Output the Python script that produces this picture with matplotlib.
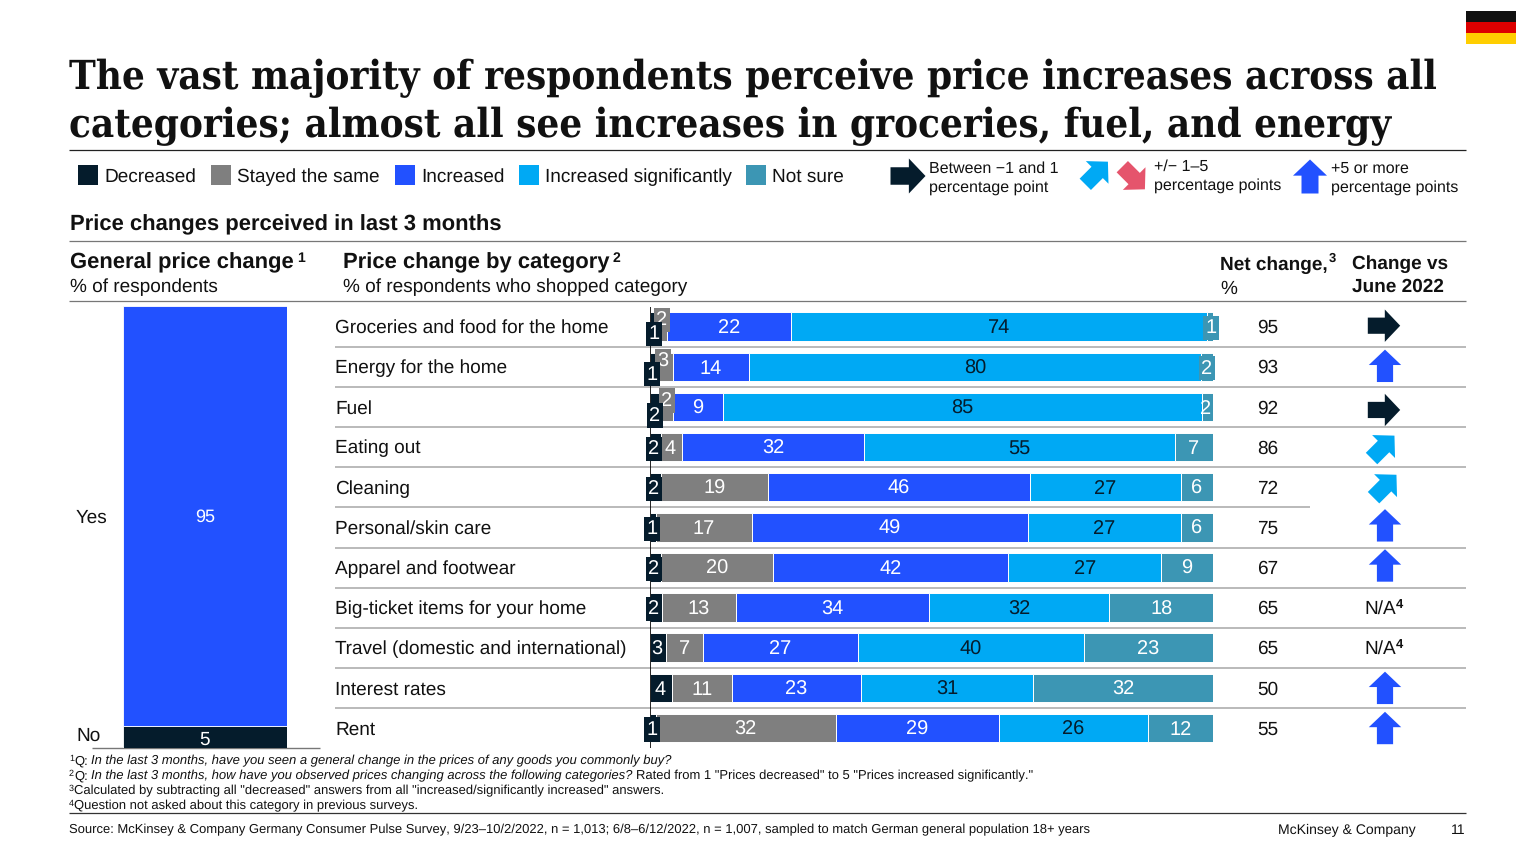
import math
import matplotlib
matplotlib.use("Agg")
import matplotlib.pyplot as plt
from matplotlib.patches import Rectangle, Polygon
from matplotlib.transforms import blended_transform_factory as blend

plt.rcParams['font.family'] = ['Liberation Sans', 'DejaVu Sans']
plt.rcParams['text.hinting'] = 'no_hinting'
plt.rcParams['text.hinting_factor'] = 1

# ---------- data ----------
categories = ["Groceries and food for the home", "Energy for the home", "Fuel", "Eating out",
              "Cleaning", "Personal/skin care", "Apparel and footwear",
              "Big-ticket items for your home", "Travel (domestic and international)",
              "Interest rates", "Rent"]
decreased = [1, 1, 2, 2, 2, 1, 2, 2.1, 2.9, 3.9, 1]
same = [2, 3, 2, 3.7, 19, 17.1, 19.8, 13.1, 6.6, 10.6, 32]
increased = [22, 13.6, 9, 32.3, 46.5, 49, 41.8, 34.4, 27.4, 22.9, 29]
significant = [74, 80.3, 85, 55.2, 26.8, 27.2, 27.2, 32, 40.2, 30.7, 26.4]
not_sure = [1, 2.1, 2, 6.8, 5.7, 5.7, 9.2, 18.4, 22.9, 31.9, 11.6]
net_change = [95, 93, 92, 86, 72, 75, 67, 65, 65, 50, 55]
trend = ["flat", "up", "flat", "diag", "diag", "up", "up", "na", "na", "up", "up"]
general_labels = ["Yes", "No"]
general_values = [95, 5]

series_names = ["Decreased", "Stayed the same", "Increased", "Increased significantly", "Not sure"]
DARK, GRAY, BLUE, CYAN, TEAL, PINK = "#051C2C", "#7F7F7F", "#2251FF", "#00A9F4", "#3C96B4", "#E5546C"
colors = [DARK, GRAY, BLUE, CYAN, TEAL]
text_colors = ["white", "white", "white", DARK, "white"]

fig = plt.figure(figsize=(15.36, 8.64), dpi=100, facecolor="white")
W, H = 1536, 864

def make_axes(x0, y0, x1, y1, z):
    a = fig.add_axes([x0 / W, 1 - y1 / H, (x1 - x0) / W, (y1 - y0) / H], zorder=z)
    a.axis("off")
    return a

ov = make_axes(0, 0, W, H, 0)
ov.set_xlim(0, W); ov.set_ylim(H, 0)
ax = make_axes(650, 306.6, 1213, 748, 2)
ax.set_xlim(0, 100); ax.set_ylim(10.5, -0.5)
axg = make_axes(123, 306, 287, 748, 2)
axg.set_xlim(0, 1); axg.set_ylim(0, 100)
top = make_axes(0, 0, W, H, 3)
top.set_xlim(0, W); top.set_ylim(H, 0)
top.patch.set_alpha(0)

def T(x, y, s, size=13.7, a=ov, **k):
    k.setdefault("va", "center"); k.setdefault("color", "#111111")
    return a.text(x, y + 1, s, fontsize=size, **k)

def hline(y, x0, x1, c="#B4B4B4", lw=1.3, z=1):
    ov.plot([x0, x1], [y, y], color=c, lw=lw, solid_capstyle="butt", zorder=z)

# ---------- title ----------
title_kw = dict(family="DejaVu Serif", stretch="condensed", weight="bold", size=29.1)
T(69, 77, "The vast majority of respondents perceive price increases across all", **title_kw)
T(69, 125, "categories; almost all see increases in groceries, fuel, and energy", **title_kw)
hline(150, 69, 1466, c="#222222", lw=0.9)

# flag
for i, c in enumerate(["#111111", "#DD0000", "#FFCE00"]):
    ov.add_patch(Rectangle((1466, 11 + i * 11), 50, 11, color=c, lw=0))

# ---------- icons ----------
def icon(x, y, kind, a=top, size=16.5):
    base = [(-1, .5), (.05, .5), (.05, 1), (1, 0), (.05, -1), (.05, -.5), (-1, -.5)]
    ang = {"flat": 0, "up": 90, "diag": 45, "down": -45}[kind]
    col = {"flat": DARK, "up": BLUE, "diag": CYAN, "down": PINK}[kind]
    r = math.radians(ang)
    pts = [(x + size * (u * math.cos(r) - v * math.sin(r)),
            y - size * (u * math.sin(r) + v * math.cos(r))) for u, v in base]
    a.add_patch(Polygon(pts, closed=True, color=col, lw=0))

# ---------- legend ----------
leg_x = [78, 211, 395, 519, 746]
for x, n, c in zip(leg_x, series_names, colors):
    ov.add_patch(Rectangle((x, 165), 20, 20, color=c, lw=0))
    T(x + 26, 176, n, size=13.8)
icon(908, 176, "flat", a=ov, size=17.5)
T(929, 168, "Between \u22121 and 1", size=11.4)
T(929, 187, "percentage point", size=11.4)
icon(1096.6, 173, "diag", a=ov, size=16)
icon(1133.6, 178, "down", a=ov, size=16)
T(1154, 166, "+/\u2212 1\u20135", size=11.4)
T(1154, 185, "percentage points", size=11.4)
icon(1310, 176.5, "up", a=ov, size=17)
T(1331, 168, "+5 or more", size=11.4)
T(1331, 187, "percentage points", size=11.4)

# ---------- headers ----------
T(70, 224, "Price changes perceived in last 3 months", size=16.2, weight="bold")
hline(241, 69, 1466, c="#777777", lw=0.9)
T(70, 262, "General price change", size=16.2, weight="bold")
T(297, 257, "1", size=10, weight="bold")
T(70, 286, "% of respondents", size=13.8)
T(343, 262, "Price change by category", size=16.2, weight="bold")
T(613, 257, "2", size=10, weight="bold")
T(343, 286, "% of respondents who shopped category", size=13.8)
T(1220, 264, "Net change,", size=13.6, weight="bold")
T(1329, 258, "3", size=9, weight="bold")
T(1220, 288, "%", size=13.6)
T(1352, 263, "Change vs", size=13.7, weight="bold")
T(1352, 286, "June 2022", size=13.7, weight="bold")
hline(301, 69, 1466, c="#777777", lw=0.9)

# ---------- general price bar ----------
axg.bar([0.5], [general_values[1]], 1, color=DARK, edgecolor="white", lw=0.6)
axg.bar([0.5], [general_values[0]], 1, bottom=general_values[1], color=BLUE, edgecolor="white", lw=0.6)
axg.text(0.5, general_values[1] + general_values[0] / 2 - 0.3, str(general_values[0]),
         color="white", ha="center", va="center", fontsize=13.3)
axg.text(0.5, general_values[1] / 2 - 0.6, str(general_values[1]),
         color="white", ha="center", va="center", fontsize=13.7)
T(76, 517, general_labels[0], size=14)
T(76, 735, general_labels[1], size=14)
hline(748, 92, 320, c="#777777", lw=1.0, z=1)

# ---------- stacked bars ----------
rows = list(range(len(categories)))
series = [decreased, same, increased, significant, not_sure]
left = [0.0] * len(rows)
mids = []
for vals, c in zip(series, colors):
    ax.barh(rows, vals, left=left, height=0.71, color=c, edgecolor="white", lw=0.7)
    mids.append([l + v / 2 for l, v in zip(left, vals)])
    left = [l + v for l, v in zip(left, vals)]
ax.axvline(0, color="black", lw=1.2, zorder=5)

ytr = blend(ov.transData, ax.transData)
px = lambda v: 650 + v * 5.63

# pixel placement for labels on very thin segments: (row, series) -> (x, dy)
nudges = {(0, 0): (654, 6), (0, 1): (662, -8), (1, 0): (652, 6), (1, 1): (663, -7),
          (2, 0): (655, 7), (2, 1): (667, -8), (3, 0): (654, 0), (3, 1): (670, 0),
          (4, 0): (654, 0), (5, 0): (652, 0), (6, 0): (654, 0), (7, 0): (654, 0),
          (8, 0): (657, 0), (9, 0): (660, 0), (10, 0): (652, 0),
          (0, 4): (1211, 0), (1, 4): (1207, 0), (2, 4): (1206, 0)}
boxed = {(0, 0), (0, 1), (1, 0), (1, 1), (2, 0), (2, 1), (3, 0), (4, 0), (5, 0), (6, 0),
         (7, 0), (10, 0), (0, 4), (1, 4)}
for s, vals in enumerate(series):
    for r in rows:
        xp, dy = nudges.get((r, s), (px(mids[s][r]), 0))
        box = None
        if (r, s) in boxed:
            box = dict(boxstyle="square,pad=0.14", fc=colors[s], ec="none")
        top.text(xp, r + (dy + 1.6) / 40.13, str(int(round(vals[r]))),
                 transform=blend(top.transData, ax.transData),
                 ha="center", va="center", fontsize=14.2, color=text_colors[s], bbox=box,
                 zorder=7 if s == 0 else 6)

# ---------- row text ----------
row_lines = [347, 387, 427, 467, 507, 548, 588, 628, 668, 708]
for i, y in enumerate(row_lines):
    hline(y, 335, 1310 if i == 4 else 1466)
icon_dy = [-1, -1, 3, 0, -1, -2, -2, 0, 0, 0, 0]
icon_x = [1384, 1385, 1384, 1383, 1385, 1385, 1385, 0, 0, 1385, 1385]
for r, (c, n, t) in enumerate(zip(categories, net_change, trend)):
    ov.text(335, r + 1.6 / 40.13, c, transform=ytr, fontsize=13.85, va="center", color="#111111")
    ov.text(1268, r + 1.6 / 40.13, str(n), transform=ytr, fontsize=13.7, va="center", ha="center", color="#111111")
    if t == "na":
        ov.text(1364, r + 1.6 / 40.13, "N/A", transform=ytr, fontsize=13.7, va="center", color="#111111")
        ov.text(1396, r - 3.4 / 40.13, "4", transform=ytr, fontsize=9, weight="bold", va="center", color="#111111")
    else:
        cy = 326.7 + r * 40.13 + icon_dy[r]
        icon(icon_x[r], cy, t, size=16.2)

# ---------- footnotes ----------
fig.canvas.draw()
rend = fig.canvas.get_renderer()
def rich(x, y, parts, size=9.0):
    for s, style in parts:
        if style == "sup":
            t = T(x, y - 2.5, s, size=6.5)
        else:
            t = T(x, y, s.rstrip(), size=size, style=style)
        x += t.get_window_extent(rend).width + (size * 1.389 * 0.28 if s.endswith(" ") else 0)

rich(69, 760, [("1", "sup"), ("Q: ", "normal"), ("In the last 3 months, have you seen a general change in the prices of any goods you commonly buy?", "italic")])
rich(69, 775, [("2", "sup"), ("Q: ", "normal"), ("In the last 3 months, how have you observed prices changing across the following categories? ", "italic"),
               ("Rated from 1 \"Prices decreased\" to 5 \"Prices increased significantly.\"", "normal")])
rich(69, 790, [("3", "sup"), ("Calculated by subtracting all \"decreased\" answers from all \"increased/significantly increased\" answers.", "normal")])
rich(69, 805, [("4", "sup"), ("Question not asked about this category in previous surveys.", "normal")])
hline(813, 69, 1466, c="#333333", lw=0.9)
T(69, 829, "Source: McKinsey & Company Germany Consumer Pulse Survey, 9/23\u201310/2/2022, n = 1,013; 6/8\u20136/12/2022, n = 1,007, sampled to match German general population 18+ years", size=9.0)
T(1278, 829, "McKinsey & Company", size=10.4)
T(1466, 829, "11", size=10, ha="right")

fig.savefig("out.png", dpi=100, facecolor="white")
